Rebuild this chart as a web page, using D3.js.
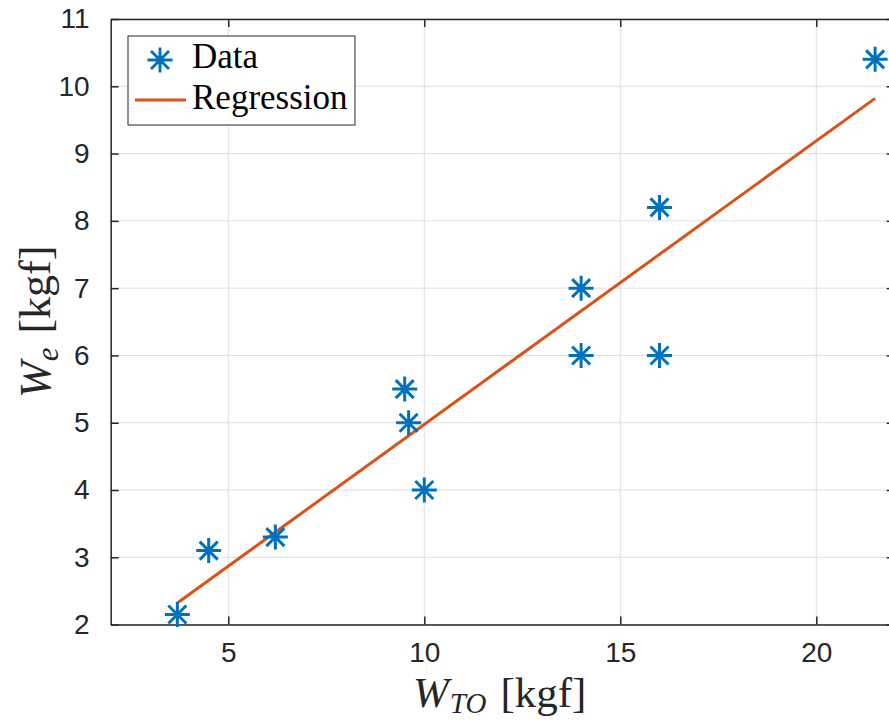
<!DOCTYPE html>
<html>
<head>
<meta charset="utf-8">
<script src="https://cdn.jsdelivr.net/npm/d3@7"></script>
<style>
  html, body { margin: 0; padding: 0; background: #ffffff; }
  svg { display: block; }
</style>
</head>
<body>
<svg id="chart" width="889" height="722"></svg>
<script>
// ---- data ----
const dataX = [3.7, 4.5, 6.2, 9.5, 9.6, 10, 14, 14, 16, 16, 21.5];
const dataY = [2.15, 3.1, 3.3, 5.5, 5.0, 4.0, 7.0, 6.0, 8.2, 6.0, 10.4];
const regX = [3.7, 21.5];
const regY = [2.32, 9.82];
const xTicks = [5, 10, 15, 20];
const yTicks = [2, 3, 4, 5, 6, 7, 8, 9, 10, 11];
const xDomain = [2, 22];
const yDomain = [2, 11];
const legendLabels = ["Data", "Regression"];

const blue = "#0072BD", orange = "#D95319", axisCol = "#262626", gridCol = "#dfdfdf";

const svg = d3.select("#chart");
const L = 110.7, T = 19, R = 894.7, B = 624.6;
const x = d3.scaleLinear().domain(xDomain).range([L, R]);
const y = d3.scaleLinear().domain(yDomain).range([B, T]);

// grid
const grid = svg.append("g");
grid.selectAll("line.gx").data(xTicks).join("line")
  .attr("x1", d => x(d)).attr("x2", d => x(d)).attr("y1", T).attr("y2", B)
  .attr("stroke", gridCol).attr("stroke-width", 1);
grid.selectAll("line.gy").data(yTicks).join("line")
  .attr("y1", d => y(d)).attr("y2", d => y(d)).attr("x1", L).attr("x2", R)
  .attr("stroke", gridCol).attr("stroke-width", 1);

// axes
const fontTick = "'Liberation Sans', Arial, sans-serif";
function styleAxis(g, showText) {
  g.select(".domain").attr("stroke", axisCol).attr("stroke-width", 1.5);
  g.selectAll(".tick line").attr("stroke", axisCol).attr("stroke-width", 1.5);
  g.selectAll(".tick text").attr("fill", axisCol).style("font-family", fontTick).style("font-size", "28px");
  if (!showText) g.selectAll(".tick text").remove();
}
const xAxisB = svg.append("g").attr("transform", `translate(0,${B})`)
  .call(d3.axisBottom(x).tickValues(xTicks).tickSizeInner(-8).tickSizeOuter(0).tickPadding(18).tickFormat(d3.format("d")));
styleAxis(xAxisB, true);
const xAxisT = svg.append("g").attr("transform", `translate(0,${T})`)
  .call(d3.axisTop(x).tickValues(xTicks).tickSizeInner(-8).tickSizeOuter(0));
styleAxis(xAxisT, false);
const yAxisL = svg.append("g").attr("transform", `translate(${L},0)`)
  .call(d3.axisLeft(y).tickValues(yTicks).tickSizeInner(-8).tickSizeOuter(0).tickPadding(21).tickFormat(d3.format("d")));
styleAxis(yAxisL, true);
const yAxisR = svg.append("g").attr("transform", `translate(${R},0)`)
  .call(d3.axisRight(y).tickValues(yTicks).tickSizeInner(-8).tickSizeOuter(0));
styleAxis(yAxisR, false);

// regression line
const reg = regX.map((v, i) => [v, regY[i]]);
svg.append("path").datum(reg)
  .attr("d", d3.line().x(d => x(d[0])).y(d => y(d[1])))
  .attr("fill", "none").attr("stroke", orange).attr("stroke-width", 3);

// asterisk markers
const r = 12.5, dd = r * 0.72;
const star = `M0,${-r}V${r}M${-r},0H${r}M${-dd},${-dd}L${dd},${dd}M${-dd},${dd}L${dd},${-dd}`;
const pts = dataX.map((v, i) => [v, dataY[i]]);
svg.append("g").selectAll("path").data(pts).join("path")
  .attr("transform", d => `translate(${x(d[0])},${y(d[1])})`)
  .attr("d", star).attr("fill", "none").attr("stroke", blue).attr("stroke-width", 3);

// legend
const serif = "'Liberation Serif', 'Times New Roman', serif";
const lg = svg.append("g");
lg.append("rect").attr("x", 128).attr("y", 36).attr("width", 227).attr("height", 89)
  .attr("fill", "#fff").attr("stroke", axisCol).attr("stroke-width", 1);
lg.append("path").attr("transform", "translate(160,60)").attr("d", star)
  .attr("fill", "none").attr("stroke", blue).attr("stroke-width", 3);
lg.append("line").attr("x1", 135).attr("x2", 186).attr("y1", 100).attr("y2", 100)
  .attr("stroke", orange).attr("stroke-width", 3);
lg.selectAll("text").data(legendLabels).join("text")
  .attr("x", 192).attr("y", (d, i) => i === 0 ? 68 : 109)
  .style("font-family", serif).style("font-size", "35px").attr("fill", "#000")
  .text(d => d);

// axis labels
const xl = svg.append("text").attr("x", (L + R) / 2 - 3).attr("y", 707)
  .attr("text-anchor", "middle").style("font-family", serif).attr("fill", axisCol).style("font-size", "43px");
xl.append("tspan").style("font-style", "italic").text("W");
xl.append("tspan").style("font-style", "italic").style("font-size", "29px").attr("dy", 6).attr("dx", 1).text("TO");
xl.append("tspan").attr("dy", -6).attr("dx", 14).text("[kgf]");

const yl = svg.append("text").attr("transform", `translate(50,${(T + B) / 2})rotate(-90)`)
  .attr("text-anchor", "middle").style("font-family", serif).attr("fill", axisCol).style("font-size", "44px");
yl.append("tspan").style("font-style", "italic").text("W");
yl.append("tspan").style("font-style", "italic").style("font-size", "31px").attr("dy", 8).text("e");
yl.append("tspan").attr("dy", -8).attr("dx", 14).text("[kgf]");
</script>
</body>
</html>
